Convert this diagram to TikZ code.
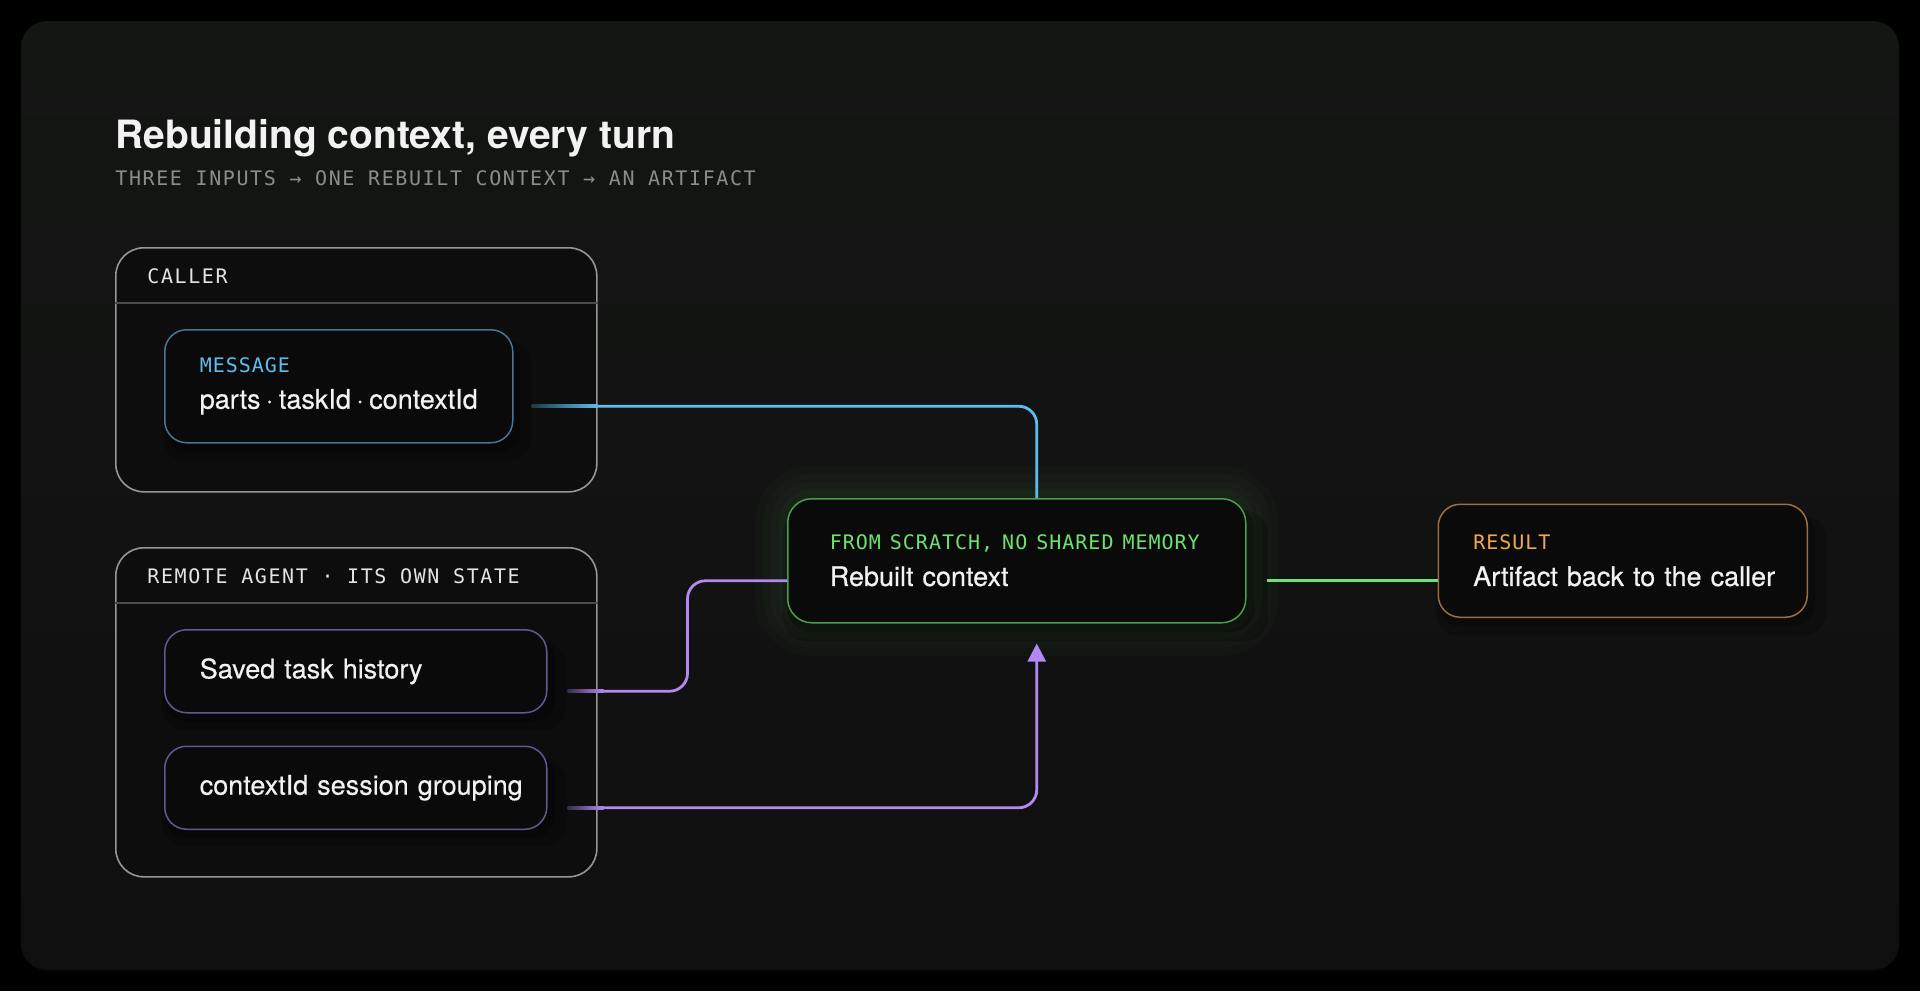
\documentclass[tikz,border=0pt]{standalone}
\usepackage{fontspec}
\setmainfont{TeX Gyre Heros}
\newfontfamily\bodyfam[FakeBold=0.5]{TeX Gyre Heros}
\newfontfamily\monotag[LetterSpace=5]{DejaVu Sans Mono}
\newfontfamily\monohead[LetterSpace=8]{DejaVu Sans Mono}
\usetikzlibrary{positioning, arrows.meta, backgrounds, calc, shadows}
\definecolor{colorPanel}{RGB}{15,15,15}
\definecolor{colorPanelTop}{RGB}{20,22,20}
\definecolor{colorGroupFill}{RGB}{13,13,13}
\definecolor{colorCardFill}{RGB}{10,10,10}
\definecolor{colorGroup}{RGB}{150,150,150}
\definecolor{colorRule}{RGB}{76,76,76}
\definecolor{colorMsgEdge}{RGB}{74,116,146}
\definecolor{colorStateEdge}{RGB}{100,86,148}
\definecolor{colorCtxEdge}{RGB}{78,156,78}
\definecolor{colorResEdge}{RGB}{158,110,62}
\definecolor{colorBlue}{RGB}{92,190,240}
\definecolor{colorViolet}{RGB}{178,136,242}
\definecolor{colorGreen}{RGB}{110,226,110}
\definecolor{colorAmber}{RGB}{240,168,80}
\definecolor{colorText}{RGB}{242,242,242}
\definecolor{colorMuted}{RGB}{140,140,140}
\definecolor{colorHead}{RGB}{228,228,228}
\newcommand{\bodyfont}{\bodyfam\fontsize{13.5}{18}\selectfont}
\newcommand{\tagfont}{\monotag\fontsize{10}{12}\selectfont}
\newcommand{\headfont}{\monohead\fontsize{10}{12}\selectfont}

\begin{document}
\begin{tikzpicture}[x=0.5pt, y=-0.5pt,
	font=\bodyfont, text=colorText,
	group/.style={rectangle, rounded corners=14pt, draw=colorGroup, line width=0.8pt,
	              fill=colorGroupFill, anchor=north west, minimum width=240.5pt, inner sep=0pt},
	card/.style={rectangle, rounded corners=11pt, line width=0.75pt, fill=colorCardFill,
	             anchor=north west, align=left, inner xsep=17.5pt, inner ysep=0pt,
	             drop shadow={shadow xshift=4pt, shadow yshift=-7pt, shadow scale=1.06, opacity=0.2, fill=black},
	             drop shadow={shadow xshift=2pt, shadow yshift=-4pt, shadow scale=1.02, opacity=0.28, fill=black}},
	headtext/.style={font=\headfont, text=colorHead, anchor=base west, inner sep=0pt},
	wire/.style={line width=1.4pt, rounded corners=9pt},
	]

% Backdrop
\begin{scope}[on background layer]
	\fill[black] (0,0) rectangle (1920,991);
	\shade[top color=colorPanelTop, bottom color=colorPanel, rounded corners=13pt] (21,21) rectangle (1899,970);
\end{scope}
\useasboundingbox (0,0) rectangle (1920,991);

% Heading
\node[anchor=base west, inner sep=0pt, font=\fontsize{19.5}{23}\selectfont\bfseries] (title) at (115,148) {Rebuilding context, every turn};
\node[anchor=base west, inner sep=0pt, font=\headfont, text=colorMuted] (subtitle) at (115,185) {THREE INPUTS → ONE REBUILT CONTEXT → AN ARTIFACT};

% Caller side
\node[group, minimum height=122pt] (caller) at (115,247) {};
\draw[colorRule, line width=0.6pt] ($(caller.north west)+(0,56)$) -- ($(caller.north east)+(0,56)$);
\node[headtext] (callerhead) at ($(caller.north west)+(32,36)$) {CALLER};
\node[card, draw=colorMsgEdge, minimum width=174pt, text width=139pt, minimum height=56.5pt] (msg) at (164,329)
	{{\tagfont\color{colorBlue}MESSAGE}\\\mbox{parts\hspace{2.7pt}·\hspace{2.7pt}taskId\hspace{2.7pt}·\hspace{2.7pt}contextId}};

% Remote agent side
\node[group, minimum height=164.5pt] (agent) at (115,547) {};
\draw[colorRule, line width=0.6pt] ($(agent.north west)+(0,56)$) -- ($(agent.north east)+(0,56)$);
\node[headtext] (agenthead) at ($(agent.north west)+(32,36)$) {REMOTE AGENT · ITS OWN STATE};
\node[card, draw=colorStateEdge, minimum width=191pt, text width=156pt, minimum height=41.5pt] (saved) at (164,629)
	{\mbox{Saved task history}};
\node[card, draw=colorStateEdge, minimum width=191pt, text width=156pt, minimum height=41.5pt, below=16pt of saved] (ctxid)
	{\mbox{contextId session grouping}};

% Rebuilt context and result
\node[card, draw=colorCtxEdge, rounded corners=12pt, inner xsep=21pt, minimum width=229pt, text width=187pt, minimum height=62pt] (rebuilt) at (787,498)
	{{\tagfont\color{colorGreen}\mbox{FROM SCRATCH, NO SHARED MEMORY}}\\\mbox{Rebuilt context}};
\node[card, draw=colorResEdge, minimum width=184.5pt, text width=149.5pt, minimum height=56.5pt, right=95.5pt of rebuilt] (result)
	{{\tagfont\color{colorAmber}RESULT}\\\mbox{Artifact back to the caller}};

\begin{scope}[on background layer]
	\draw[colorGreen, opacity=0.022, line width=32pt, rounded corners=12pt] (rebuilt.north west) rectangle (rebuilt.south east);
	\draw[colorGreen, opacity=0.022, line width=24pt, rounded corners=12pt] (rebuilt.north west) rectangle (rebuilt.south east);
	\draw[colorGreen, opacity=0.025, line width=16pt, rounded corners=12pt] (rebuilt.north west) rectangle (rebuilt.south east);
	\draw[colorGreen, opacity=0.03, line width=8pt, rounded corners=12pt] (rebuilt.north west) rectangle (rebuilt.south east);
\end{scope}

% Connectors
\coordinate (msgout) at ($(msg.east)+(19,20)$);
\coordinate (savedout) at ($(saved.east)+(21,20)$);
\coordinate (ctxout) at ($(ctxid.east)+(21,20)$);
\coordinate (intop) at ($(rebuilt.north)+(20,0)$);
\coordinate (inleft) at ($(rebuilt.west)+(0,20)$);
\coordinate (inbottom) at ($(rebuilt.south)+(20,20)$);
\coordinate (outright) at ($(rebuilt.east)+(20,20)$);

\draw[wire, colorBlue] (msgout) -| (intop);
\draw[wire, colorViolet] (savedout) -- ++(119,0) |- (inleft);
\draw[wire, colorViolet, -{Triangle[length=9pt, width=9pt]}] (ctxout) -| (inbottom);
\draw[wire, colorGreen] (outright) -- (outright -| result.west);

% Faded wire starts
\shade[left color=colorBlue!25!colorGroupFill, right color=colorBlue] ($(msgout)+(-1,-1.7)$) rectangle ($(msgout)+(65,1.7)$);
\shade[left color=colorViolet!25!colorGroupFill, right color=colorViolet] ($(savedout)+(-1,-1.7)$) rectangle ($(savedout)+(35,1.7)$);
\shade[left color=colorViolet!25!colorGroupFill, right color=colorViolet] ($(ctxout)+(-1,-1.7)$) rectangle ($(ctxout)+(35,1.7)$);

\end{tikzpicture}
\end{document}
